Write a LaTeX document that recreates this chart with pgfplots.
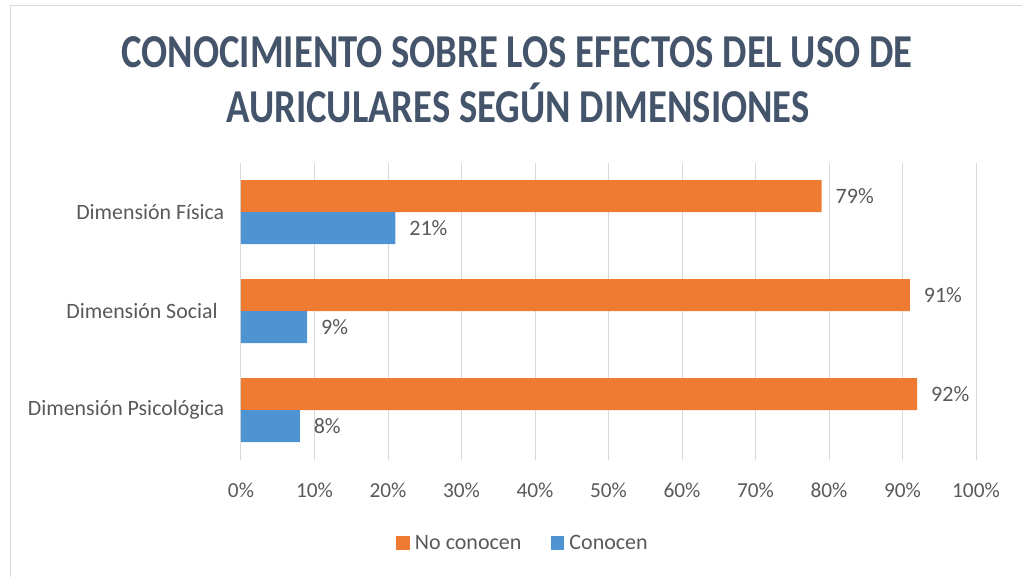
\documentclass[border=0pt]{standalone}
\usepackage{pgfplots}
\pgfplotsset{compat=1.18}
\usepackage{fontspec}
\setmainfont{Carlito}
\definecolor{orng}{HTML}{EF7B32}
\definecolor{blu}{HTML}{4E93D2}
\definecolor{ttl}{HTML}{44546A}
\definecolor{txt}{HTML}{595959}
\definecolor{grd}{HTML}{D9D9D9}
\begin{document}
\begin{tikzpicture}
\begin{scope}[x=0.75pt,y=-0.75pt]
\useasboundingbox (0,0) rectangle (1022,577);
\draw[grd] (10,577) -- (10,5) -- (1022,5);
\node[ttl,font=\bfseries\fontsize{29}{35}\selectfont] at (517,52) {\scalebox{1}[1.22]{CONOCIMIENTO SOBRE LOS EFECTOS DEL USO DE}};
\node[ttl,font=\bfseries\fontsize{29}{35}\selectfont] at (518,103) {\scalebox{1}[1.22]{AURICULARES SEGÚN DIMENSIONES}};
\end{scope}
\begin{axis}[
  at={(180.75pt,-344.625pt)}, anchor=south west, scale only axis,
  width=551.25pt, height=222.75pt,
  xbar, xmin=0, xmax=100, ymin=-0.5, ymax=2.5,
  bar width=24pt,
  xtick={0,10,...,100},
  xticklabel={\pgfmathprintnumber{\tick}\%},
  /pgf/number format/assume math mode=true,
  ytick={0,1,2},
  yticklabels={Dimensión Psicológica, Dimensión Social\hspace*{5pt}, Dimensión Física},
  xmajorgrids, grid style={grd, line width=0.75pt},
  axis line style={draw=none},
  major tick length=0pt,
  tick label style={txt, font=\fontsize{16}{19}\selectfont},
  yticklabel style={xshift=-9pt, font=\fontsize{16.4}{19}\selectfont},
  xticklabel style={yshift=-14pt},
  nodes near coords={\pgfmathprintnumber{\pgfplotspointmeta}\%},
  every node near coord/.append style={txt, font=\fontsize{16.5}{19}\selectfont, anchor=west, xshift=7pt},
  legend columns=2,
  legend style={draw=none, at={(0.386,-0.281)}, anchor=center, font=\fontsize{16.5}{19}\selectfont, text=txt,
    /tikz/every even column/.append style={column sep=18pt},
    nodes={inner xsep=4pt}},
  legend image code/.code={\fill[#1] (0pt,-5pt) rectangle (10pt,5pt);},
]
\addplot[bar shift=12pt, draw=none, fill=orng] coordinates {(92,0) (91,1) (79,2)};
\addplot[bar shift=-12pt, draw=none, fill=blu] coordinates {(8,0) (9,1) (21,2)};
\legend{No conocen, Conocen}
\end{axis}
\end{tikzpicture}
\end{document}
